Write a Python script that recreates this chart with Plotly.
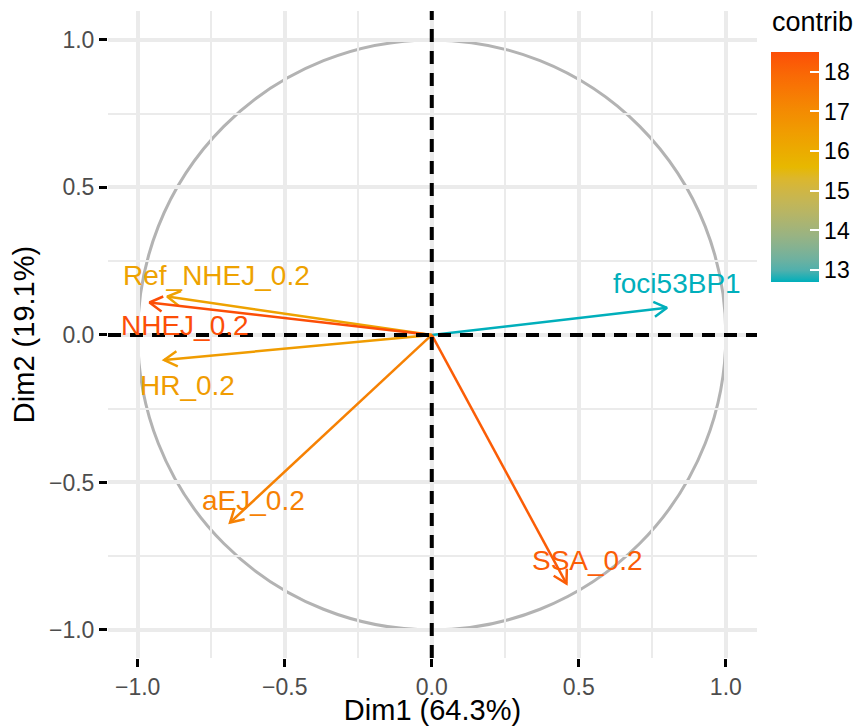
import numpy as np
import plotly.graph_objects as go

# ---------------- data ----------------
variables = ["foci53BP1", "Ref_NHEJ_0.2", "NHEJ_0.2", "HR_0.2", "aEJ_0.2", "SSA_0.2"]
dim1 = [0.80, -0.90, -0.96, -0.91, -0.686, 0.458]
dim2 = [0.092, 0.13, 0.11, -0.085, -0.636, -0.843]
contrib = [12.7, 16.3, 18.5, 16.5, 17.3, 18.2]
axis_ticks = [-1.0, -0.5, 0.0, 0.5, 1.0]
axis_tick_labels = ["\u22121.0", "\u22120.5", "0.0", "0.5", "1.0"]
minor_ticks = [-0.75, -0.25, 0.25, 0.75]
cbar_ticks = [13, 14, 15, 16, 17, 18]
gradient = ["#00AFBB", "#E7B800", "#FC4E07"]
x_title = "Dim1 (64.3%)"
y_title = "Dim2 (19.1%)"
cbar_title = "contrib"

# label offsets from arrow tips, in pixels (style)
label_dx = [10, 49, 36, 23, 23, 21]
label_dy = [24, 21, -23, -25, 22, 23]

# ---------------- geometry ----------------
# page body has an 8px margin, so the figure is 8px smaller and shifted
W, H = 853, 718
ML, MR, MT, MB = 100, 104, 3, 68
xr = [-1.101, 1.106]
yr = [-1.095, 1.098]
pw, ph = W - ML - MR, H - MT - MB
px_x = pw / (xr[1] - xr[0])
px_y = ph / (yr[1] - yr[0])
FONT = "Liberation Sans, Arial, sans-serif"


# ---------------- Lab colour interpolation (like ggplot) ----------------
def hex2rgb(h):
    h = h.lstrip("#")
    return np.array([int(h[i:i + 2], 16) / 255 for i in (0, 2, 4)])


def srgb2lin(c):
    return np.where(c <= 0.04045, c / 12.92, ((c + 0.055) / 1.055) ** 2.4)


def lin2srgb(c):
    c = np.clip(c, 0, 1)
    return np.where(c <= 0.0031308, 12.92 * c, 1.055 * c ** (1 / 2.4) - 0.055)


M = np.array([[0.4124, 0.3576, 0.1805], [0.2126, 0.7152, 0.0722], [0.0193, 0.1192, 0.9505]])
Minv = np.linalg.inv(M)
WP = np.array([0.95047, 1.0, 1.08883])


def f(t):
    return np.where(t > (6 / 29) ** 3, np.cbrt(t), t / (3 * (6 / 29) ** 2) + 4 / 29)


def finv(t):
    return np.where(t > 6 / 29, t ** 3, 3 * (6 / 29) ** 2 * (t - 4 / 29))


def rgb2lab(rgb):
    xyz = M @ srgb2lin(rgb) / WP
    fx, fy, fz = f(xyz)
    return np.array([116 * fy - 16, 500 * (fx - fy), 200 * (fy - fz)])


def lab2rgb(lab):
    L, a, b = lab
    fy = (L + 16) / 116
    fx = fy + a / 500
    fz = fy - b / 200
    xyz = np.array([finv(fx), finv(fy), finv(fz)]) * WP
    return lin2srgb(Minv @ xyz)


labs = [rgb2lab(hex2rgb(c)) for c in gradient]


def colour_at(t):
    t = min(max(t, 0.0), 1.0)
    seg = min(int(t * 2), 1)
    u = t * 2 - seg
    lab = labs[seg] * (1 - u) + labs[seg + 1] * u
    r, g, b = (lab2rgb(lab) * 255).round().astype(int)
    return f"rgb({r},{g},{b})"


cscale = [[i / 20, colour_at(i / 20)] for i in range(21)]
cmin, cmax = min(contrib), max(contrib)

fig = go.Figure()

# arrows
head_len = 15  # px
for name, x, y, c in zip(variables, dim1, dim2, contrib):
    col = colour_at((c - cmin) / (cmax - cmin))
    ang = np.arctan2(y * px_y, x * px_x)
    arms = []
    for s in (1, -1):
        a = ang + np.pi + s * np.pi / 6
        arms.append((x + head_len * np.cos(a) / px_x, y + head_len * np.sin(a) / px_y))
    fig.add_trace(go.Scatter(
        x=[0, x, None, arms[0][0], x, arms[1][0]],
        y=[0, y, None, arms[0][1], y, arms[1][1]],
        mode="lines", line=dict(color=col, width=2.5),
        showlegend=False, hoverinfo="skip"))

# colourbar carrier
bar_top = 44   # px from figure top
bar_left = 763
fig.add_trace(go.Scatter(
    x=dim1, y=dim2, mode="markers",
    marker=dict(size=0.1, color=contrib, colorscale=cscale, cmin=cmin, cmax=cmax,
                showscale=True,
                colorbar=dict(
                    x=(bar_left - ML) / pw, xanchor="left", xpad=0,
                    y=(H - MB - bar_top) / ph, yanchor="top", ypad=0,
                    len=230, lenmode="pixels", thickness=48,
                    outlinewidth=0, ticks="inside", ticklen=9, tickcolor="white", tickwidth=1.5,
                    tickprefix="\u00a0\u2009",
                    tickvals=cbar_ticks, tickfont=dict(size=23, color="black", family=FONT))),
    showlegend=False, hoverinfo="skip"))

# colourbar title
fig.add_annotation(xref="paper", yref="paper", x=(bar_left - 1 - ML) / pw, y=(H - MB - 14) / ph,
                   xanchor="left", yanchor="middle", showarrow=False, text=cbar_title,
                   font=dict(size=27, color="black", family=FONT))

# labels
for name, x, y, c, dx, dy in zip(variables, dim1, dim2, contrib, label_dx, label_dy):
    col = colour_at((c - cmin) / (cmax - cmin))
    fig.add_annotation(x=x, y=y, text=name, showarrow=False, xshift=dx, yshift=dy,
                       xanchor="center", yanchor="middle",
                       font=dict(size=28, color=col, family=FONT))

# circle and dashed zero lines
fig.add_shape(type="circle", xref="x", yref="y", x0=-1, y0=-1, x1=1, y1=1,
              line=dict(color="#B3B3B3", width=3), layer="below")
fig.add_shape(type="line", xref="x", yref="paper", x0=0, x1=0, y0=0, y1=1,
              line=dict(color="black", width=4, dash="13px,9px"), layer="above")
fig.add_shape(type="line", xref="paper", yref="y", x0=0, x1=1, y0=0, y1=0,
              line=dict(color="black", width=4, dash="13px,9px"), layer="above")

axis_common = dict(
    tickvals=axis_ticks, ticktext=axis_tick_labels,
    showgrid=True, gridcolor="#EBEBEB", gridwidth=3.5,
    minor=dict(tickvals=minor_ticks, showgrid=True, gridcolor="#EBEBEB", gridwidth=1.8, ticks=""),
    zeroline=False, showline=False,
    ticks="outside", ticklen=8, tickwidth=2.5, tickcolor="black",
    tickfont=dict(size=23, color="#4D4D4D", family=FONT),
    automargin=False,
)

fig.update_layout(
    width=W, height=H,
    margin=dict(l=ML, r=MR, t=MT, b=MB, autoexpand=False),
    paper_bgcolor="white", plot_bgcolor="white",
    showlegend=False,
    xaxis=dict(range=xr, title=dict(text=x_title, font=dict(size=29, color="black", family=FONT), standoff=3),
               **axis_common),
    yaxis=dict(range=yr, title=dict(text=y_title, font=dict(size=29, color="black", family=FONT), standoff=7),
               **axis_common),
)

fig.write_html("out.html")
